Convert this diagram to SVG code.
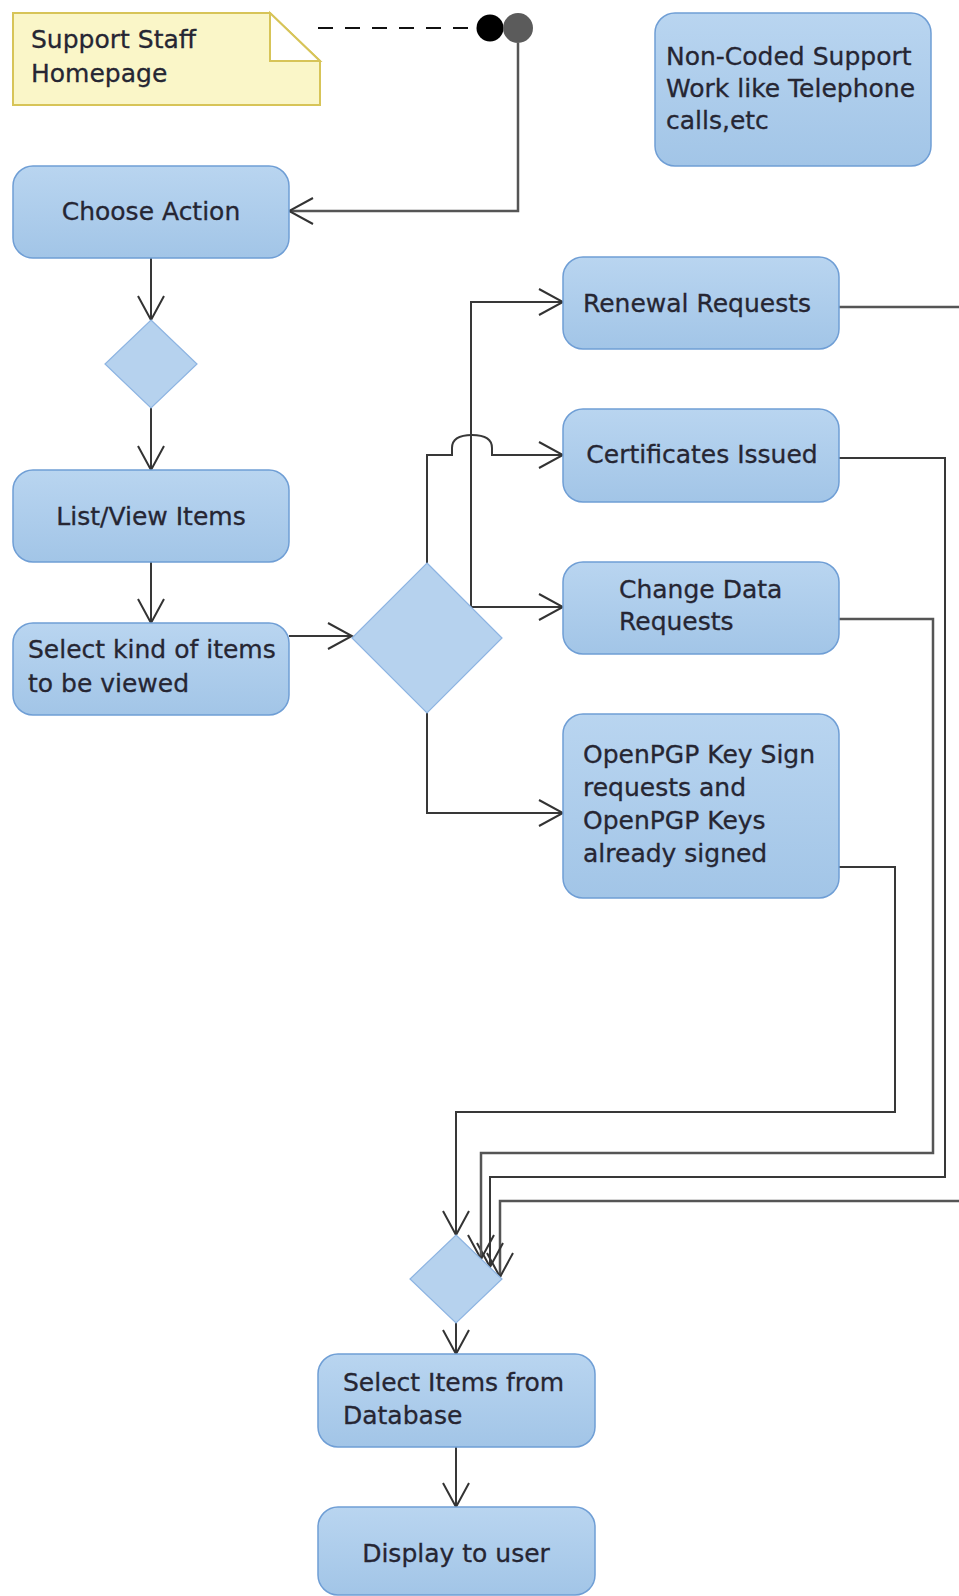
<svg xmlns="http://www.w3.org/2000/svg" width="959" height="1596" viewBox="0 0 959 1596">
  <defs>
    <linearGradient id="actFill" x1="0" y1="0" x2="0" y2="1">
      <stop offset="0" stop-color="#B9D5F0"/>
      <stop offset="1" stop-color="#A2C5E7"/>
    </linearGradient>
    <marker id="openArrow" markerUnits="userSpaceOnUse" viewBox="0 0 27 28" refX="25" refY="14" markerWidth="27" markerHeight="28" orient="auto">
      <path d="M1,1 L25,14 L1,27" fill="none" stroke="#333333" stroke-width="2"/>
    </marker>
    <style>
      .action { fill: url(#actFill); stroke: #6F9ED5; stroke-width: 1.5; }
      .decision { fill: #B6D2EE; stroke: #8DB4E2; stroke-width: 1.2; }
      .note { fill: #FAF6C8; stroke: #D7C458; stroke-width: 2; }
      .fold { fill: #FFFFFF; stroke: #D7C458; stroke-width: 2; }
      .label { font-family: "DejaVu Sans", "Liberation Sans", sans-serif; font-size: 25px; fill: #262633; stroke: #262633; stroke-width: 0.3; }
      .mid { text-anchor: middle; }
      .flow { fill: none; stroke: #383838; stroke-width: 2; }
      .flow-grey { fill: none; stroke: #555555; stroke-width: 2.5; }
      .arrow { marker-end: url(#openArrow); }
      .dash { fill: none; stroke: #111111; stroke-width: 2; stroke-dasharray: 15 12; }
    </style>
  </defs>

  <rect width="959" height="1596" fill="#FFFFFF"/>

  <!-- connectors -->
  <g id="connectors">
    <path class="dash" d="M318,28 H480"/>
    <path class="flow-grey arrow" d="M518,43 V211 H289"/>
    <path class="flow arrow" d="M151,258 V320"/>
    <path class="flow arrow" d="M151,408 V470"/>
    <path class="flow arrow" d="M151,562 V623"/>
    <path class="flow arrow" d="M289,636 H352"/>
    <path class="flow arrow" d="M427,563 V455 H452 V448 C452,439 460,435 472,435 C484,435 492,439 492,448 V455 H563"/>
    <path class="flow arrow" d="M471,607 V302 H563"/>
    <path class="flow arrow" d="M471,607 H563"/>
    <path class="flow arrow" d="M427,713 V813 H563"/>
    <path class="flow-grey arrow" d="M839,307 H975 V1201 H500 V1277"/>
    <path class="flow arrow" d="M839,458 H945 V1177 H490 V1267"/>
    <path class="flow-grey arrow" d="M839,619 H933 V1153 H481 V1259"/>
    <path class="flow arrow" d="M839,867 H895 V1112 H456 V1235"/>
    <path class="flow arrow" d="M456,1323 V1354"/>
    <path class="flow arrow" d="M456,1447 V1507"/>
  </g>

  <!-- note -->
  <g id="note-homepage">
    <path class="note" d="M13,13 H270 L320,61 V105 H13 Z"/>
    <path class="fold" d="M270,13 V61 H320 Z"/>
    <text class="label" x="31" y="48">Support Staff</text>
    <text class="label" x="31" y="82">Homepage</text>
  </g>

  <!-- start node -->
  <g id="start">
    <circle cx="490" cy="28" r="13.5" fill="#000000"/>
    <circle cx="518" cy="28" r="15" fill="#5B5B5B"/>
  </g>

  <g id="non-coded">
    <rect class="action" x="655" y="13" width="276" height="153" rx="20"/>
    <text class="label" x="666" y="65">Non-Coded Support</text>
    <text class="label" x="666" y="97">Work like Telephone</text>
    <text class="label" x="666" y="129">calls,etc</text>
  </g>

  <g id="choose-action">
    <rect class="action" x="13" y="166" width="276" height="92" rx="20"/>
    <text class="label mid" x="151" y="220">Choose Action</text>
  </g>

  <g id="decision-1">
    <polygon class="decision" points="151,320 197,364 151,408 105,364"/>
  </g>

  <g id="list-view">
    <rect class="action" x="13" y="470" width="276" height="92" rx="20"/>
    <text class="label mid" x="151" y="525">List/View Items</text>
  </g>

  <g id="select-kind">
    <rect class="action" x="13" y="623" width="276" height="92" rx="20"/>
    <text class="label" x="28" y="658">Select kind of items</text>
    <text class="label" x="28" y="692">to be viewed</text>
  </g>

  <g id="decision-2">
    <polygon class="decision" points="427,563 502,638 427,713 352,638"/>
  </g>

  <g id="renewal">
    <rect class="action" x="563" y="257" width="276" height="92" rx="20"/>
    <text class="label mid" x="697" y="312">Renewal Requests</text>
  </g>

  <g id="certificates">
    <rect class="action" x="563" y="409" width="276" height="93" rx="20"/>
    <text class="label mid" x="702" y="463">Certificates Issued</text>
  </g>

  <g id="change-data">
    <rect class="action" x="563" y="562" width="276" height="92" rx="20"/>
    <text class="label" x="619" y="598">Change Data</text>
    <text class="label" x="619" y="630">Requests</text>
  </g>

  <g id="openpgp">
    <rect class="action" x="563" y="714" width="276" height="184" rx="20"/>
    <text class="label" x="583" y="763">OpenPGP Key Sign</text>
    <text class="label" x="583" y="796">requests and</text>
    <text class="label" x="583" y="829">OpenPGP Keys</text>
    <text class="label" x="583" y="862">already signed</text>
  </g>

  <g id="decision-3">
    <polygon class="decision" points="456,1235 502,1279 456,1323 410,1279"/>
  </g>

  <g id="select-items">
    <rect class="action" x="318" y="1354" width="277" height="93" rx="20"/>
    <text class="label" x="343" y="1391">Select Items from</text>
    <text class="label" x="343" y="1424">Database</text>
  </g>

  <g id="display">
    <rect class="action" x="318" y="1507" width="277" height="88" rx="20"/>
    <text class="label mid" x="456" y="1562">Display to user</text>
  </g>
</svg>
